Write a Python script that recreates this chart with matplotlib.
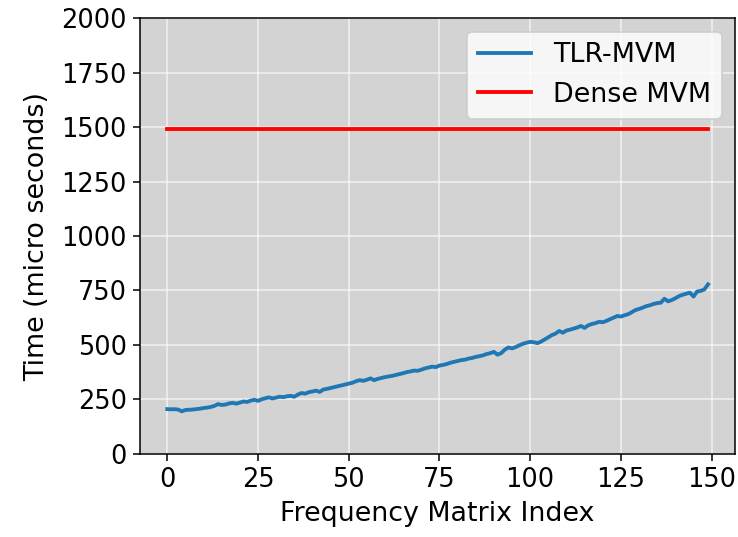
import matplotlib
matplotlib.use("Agg")
import matplotlib.pyplot as plt
import numpy as np

tlr_mvm = [
    205, 204, 205, 203, 195, 201, 202, 203, 205, 207,
    210, 212, 215, 220, 228, 224, 226, 231, 234, 230,
    235, 240, 238, 244, 248, 243, 250, 255, 259, 254,
    258, 262, 260, 264, 266, 262, 272, 279, 276, 283,
    286, 290, 284, 295, 298, 302, 306, 310, 314, 318,
    322, 326, 333, 338, 335, 340, 346, 338, 344, 348,
    352, 355, 358, 362, 366, 370, 375, 378, 382, 381,
    386, 392, 396, 400, 398, 405, 408, 412, 418, 422,
    426, 430, 432, 437, 440, 445, 448, 452, 458, 462,
    468, 455, 462, 478, 488, 484, 490, 498, 505, 510,
    514, 512, 508, 515, 525, 535, 545, 552, 564, 556,
    566, 570, 575, 580, 587, 578, 590, 596, 600, 606,
    604, 610, 618, 625, 633, 630, 636, 641, 650, 660,
    665, 671, 678, 682, 688, 692, 694, 712, 700, 706,
    714, 724, 730, 735, 740, 722, 745, 748, 755, 778,
]
dense_mvm = [1491] * len(tlr_mvm)
freq_index = list(range(len(tlr_mvm)))

DPI = 138
plt.rcParams['font.size'] = 14
plt.rcParams['xtick.labelsize'] = 13.4
plt.rcParams['ytick.labelsize'] = 13.4
fig = plt.figure(figsize=(738 / DPI, 537 / DPI), dpi=DPI)
ax = fig.add_axes([0.19, 0.155, 0.806, 0.811])
ax.set_facecolor('lightgrey')
ax.grid(True, color='white', linewidth=0.8, alpha=0.7)
ax.set_axisbelow(True)
ax.plot(freq_index, tlr_mvm, color='#1f77b4', linewidth=2, label='TLR-MVM')
ax.plot(freq_index, dense_mvm, color='red', linewidth=2, label='Dense MVM')
ax.set_ylim(0, 2000)
ax.set_yticks(np.arange(0, 2001, 250))
ax.set_xticks([0, 25, 50, 75, 100, 125, 150])
ax.set_xlabel('Frequency Matrix Index')
ax.set_ylabel('Time (micro seconds)', labelpad=6)
ax.legend(loc='upper right')
fig.savefig('out.png', dpi=DPI)
